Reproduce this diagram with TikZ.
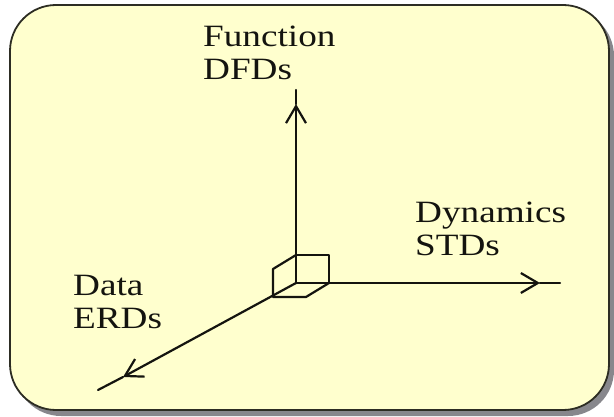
\documentclass[tikz,border=0pt]{standalone}
\usepackage{fontspec}
\setmainfont{Liberation Serif}
\newfontfamily\labelfont[FakeStretch=1.2]{Liberation Serif}
\usetikzlibrary{arrows.meta}
\definecolor{panelfill}{RGB}{255,255,206}
\definecolor{panelrim}{RGB}{45,45,35}
\definecolor{panelshadow}{RGB}{135,135,140}
\definecolor{ink}{RGB}{20,20,15}
\tikzset{
  axisline/.style={draw=ink, line width=2.2pt, line join=round, line cap=round},
  axishead/.style={axisline, -{Straight Barb[length=17pt,width=20pt,line width=2.2pt]}},
  cubeedge/.style={draw=ink, line width=2.2pt, line join=round, line cap=round},
  axislabel/.style={inner sep=0pt, anchor=base west, text=ink, font=\labelfont\fontsize{31}{34}\selectfont}
}
\begin{document}
\begin{tikzpicture}[x=1pt,y=-1pt]
  \useasboundingbox (0,0) rectangle (614,417);
  % panel with its drop shadow
  \fill[panelshadow, rounded corners=46pt] (15,10) rectangle (614,416);
  \draw[panelrim, fill=panelfill, line width=1.8pt, rounded corners=46pt] (10,5) rectangle (609,410);

  % axis origin and cube corners
  \coordinate (o) at (296,283);
  \coordinate (ftl) at (296,255);
  \coordinate (ftr) at (329,255);
  \coordinate (fbr) at (329,283);
  \coordinate (btl) at (273,269);
  \coordinate (bbl) at (273,297);
  \coordinate (bbr) at (306,297);

  % axis ends and arrow tips
  \coordinate (uptip) at (296,104);
  \coordinate (upend) at (296,90);
  \coordinate (rtip) at (540,283);
  \coordinate (rend) at (560,283);
  \coordinate (dtip) at (123,377);
  \coordinate (dend) at (98,390);

  % cube at the origin
  \draw[cubeedge] (ftl) -- (ftr) -- (fbr);
  \draw[cubeedge] (ftl) -- (btl) -- (bbl) -- (bbr) -- (fbr);

  % the three axes
  \draw[axishead] (o) -- (uptip);
  \draw[axisline] (uptip) -- (upend);
  \draw[axishead] (o) -- (rtip);
  \draw[axisline] (rtip) -- (rend);
  \draw[axishead] (o) -- (dtip);
  \draw[axisline] (dtip) -- (dend);

  % labels
  \node[axislabel] (fn1) at (203,47) {Function};
  \node[axislabel] (fn2) at (203,80) {DFDs};
  \node[axislabel] (dy1) at (415,223) {Dynamics};
  \node[axislabel] (dy2) at (415,256) {STDs};
  \node[axislabel] (da1) at (73,295) {Data};
  \node[axislabel] (da2) at (73,328) {ERDs};
\end{tikzpicture}
\end{document}
